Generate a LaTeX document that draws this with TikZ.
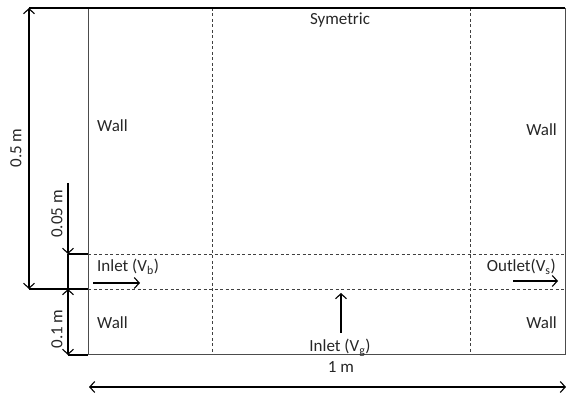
\documentclass[tikz,border=0pt]{standalone}
\usepackage{fontspec}
\setmainfont{Carlito}
\usetikzlibrary{arrows.meta}
\begin{document}
\begin{tikzpicture}[x=1pt,y=-1pt,
  lbl/.style={inner sep=0pt, font=\fontsize{17}{20}\selectfont, text=black!85},
  dimline/.style={line width=1.1pt, black},
  tipb/.style={-{Straight Barb[length=5pt,width=11pt,line width=1.1pt]}},
  tipbb/.style={{Straight Barb[length=5pt,width=11pt,line width=1.1pt]}-{Straight Barb[length=5pt,width=11pt,line width=1.1pt]}},
  border/.style={line width=1pt, black!70},
  grid/.style={line width=0.9pt, black!75, dash pattern=on 3pt off 2.5pt},
  flow/.style={line width=1.1pt, black, -{Straight Barb[length=5pt,width=11pt,line width=1.1pt]}}]
\useasboundingbox (0,0) rectangle (566,398);
% corners of domain
\coordinate (TL) at (88,8);
\coordinate (TR) at (565,8);
\coordinate (BL) at (88,355);
\coordinate (BR) at (565,355);
\coordinate (L1) at (88,254);
\coordinate (R1) at (565,254);
\coordinate (L2) at (88,289);
\coordinate (R2) at (565,289);
\coordinate (V1t) at (212,8);
\coordinate (V1b) at (212,355);
\coordinate (V2t) at (470,8);
\coordinate (V2b) at (470,355);
% dimension coordinates
\coordinate (D5t) at (29,8);
\coordinate (D5b) at (29,289);
\coordinate (D05s) at (68,183);
\coordinate (D05e) at (68,254);
\coordinate (D1t) at (68,289);
\coordinate (D1b) at (68,355);
\coordinate (Hl) at (89,387);
\coordinate (Hr) at (566,387);
% flow arrows
\coordinate (Ab1) at (93,283);
\coordinate (Ab2) at (140,283);
\coordinate (As1) at (513,281);
\coordinate (As2) at (558,281);
\coordinate (Ag1) at (341,333);
\coordinate (Ag2) at (341,293);

% grid lines
\draw[grid] (L1) -- (R1);
\draw[grid] (L2) -- (R2);
\draw[grid] (V1t) -- (V1b);
\draw[grid] (V2t) -- (V2b);
% domain border
\draw[border] (TR) -- (BR) -- (BL) -- (TL);
\draw[dimline] (D5t) -- (TR);
% dimension lines
\draw[dimline, tipbb] (D5t) -- (D5b);
\draw[dimline] (D5b) -- (L2);
\draw[dimline, tipb] (D05s) -- (D05e);
\draw[dimline] (D05e) -- (L1);
\draw[dimline] (D05e) -- (D1t);
\draw[dimline, tipbb] (D1t) -- (D1b);
\draw[dimline] (D1b) -- (BL);
\draw[dimline, tipbb] (Hl) -- (Hr);
% flow arrows
\draw[flow] (Ab1) -- (Ab2);
\draw[flow] (As1) -- (As2);
\draw[flow] (Ag1) -- (Ag2);

% labels
\node[lbl, anchor=base] (sym) at (340,25) {Symetric};
\node[lbl, anchor=base west] (w1) at (97,132) {Wall};
\node[lbl, anchor=base east] (w2) at (557,136) {Wall};
\node[lbl, anchor=base west] (w3) at (97,329) {Wall};
\node[lbl, anchor=base east] (w4) at (557,329) {Wall};
\node[lbl, anchor=base west] (ib) at (97,272) {Inlet (V\textsubscript{b})};
\node[lbl, anchor=base east] (os) at (556,272) {Outlet(V\textsubscript{s})};
\node[lbl, anchor=base] (ig) at (340,352) {Inlet (V\textsubscript{g})};
\node[lbl, anchor=base] (m1) at (341,373) {1 m};
\node[lbl, rotate=90] (m5) at (16,148) {0.5 m};
\node[lbl, rotate=90] (m05) at (57,214) {0.05 m};
\node[lbl, rotate=90] (m01) at (57,329) {0.1 m};
\end{tikzpicture}
\end{document}
